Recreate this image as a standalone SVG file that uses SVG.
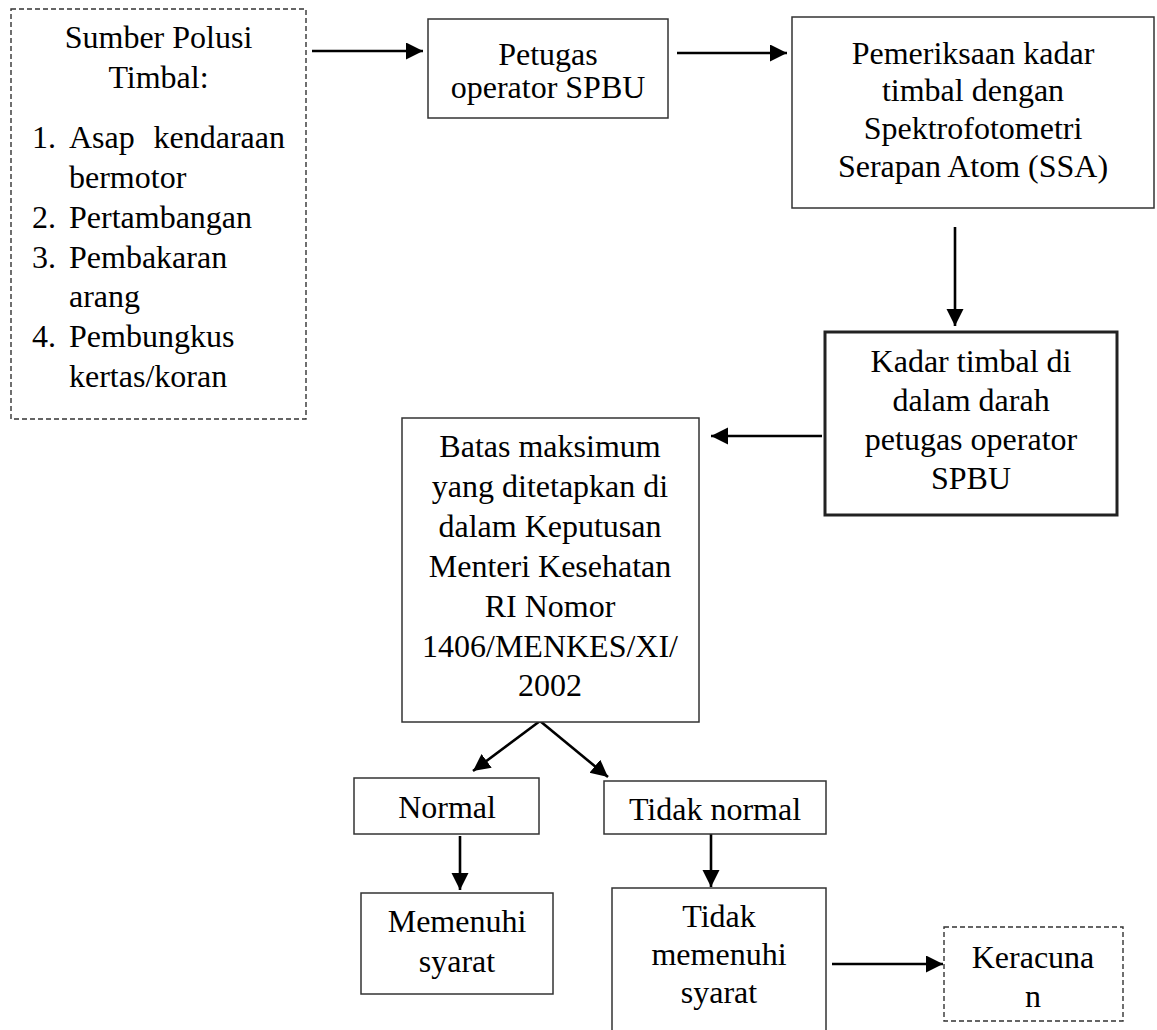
<svg xmlns="http://www.w3.org/2000/svg" width="1157" height="1030" viewBox="0 0 1157 1030">
<style>
text { font-family: "Liberation Serif", "Times New Roman", serif; font-size: 32px; fill: #000; }
.c { text-anchor: middle; }
.box { fill: #fff; stroke: #333; stroke-width: 1.5; }
.thick { fill: #fff; stroke: #222; stroke-width: 3; }
.dash { fill: #fff; stroke: #333; stroke-width: 1.4; stroke-dasharray: 5 3; }
.conn { stroke: #000; stroke-width: 2.6; fill: none; marker-end: url(#ah); }
</style>
<defs>
<marker id="ah" markerUnits="userSpaceOnUse" markerWidth="19" markerHeight="18" refX="17" refY="8.5" orient="auto">
<path d="M0,0 L17,8.5 L0,17 z" fill="#000"/>
</marker>
</defs>
<rect width="1157" height="1030" fill="#fff"/>
<g id="connectors">
<line class="conn" x1="312" y1="51" x2="423" y2="51"/>
<line class="conn" x1="677" y1="53" x2="787" y2="53"/>
<line class="conn" x1="955" y1="227" x2="955" y2="326"/>
<line class="conn" x1="822" y1="436" x2="711" y2="436"/>
<line class="conn" x1="540" y1="721" x2="473" y2="771"/>
<line class="conn" x1="540" y1="721" x2="608" y2="777"/>
<line class="conn" x1="460" y1="836" x2="460" y2="890"/>
<line class="conn" x1="711" y1="834" x2="711" y2="887"/>
<line class="conn" x1="832" y1="964" x2="943" y2="964"/>
</g>
<g id="node-sumber">
<rect class="dash" x="11" y="9" width="295" height="410"/>
<text class="c" x="158.5" y="48">Sumber Polusi</text>
<text class="c" x="158.5" y="88">Timbal:</text>
<text x="32" y="148">1.</text>
<text x="69" y="148">Asap</text>
<text x="285" y="148" text-anchor="end">kendaraan</text>
<text x="69" y="188">bermotor</text>
<text x="32" y="228">2.</text>
<text x="69" y="228">Pertambangan</text>
<text x="32" y="268">3.</text>
<text x="69" y="268">Pembakaran</text>
<text x="69" y="307">arang</text>
<text x="32" y="347">4.</text>
<text x="69" y="347">Pembungkus</text>
<text x="69" y="387">kertas/koran</text>
</g>
<g id="node-petugas">
<rect class="box" x="428" y="19" width="240" height="99"/>
<text class="c" x="548" y="65">Petugas</text>
<text class="c" x="548" y="98">operator SPBU</text>
</g>
<g id="node-pemeriksaan">
<rect class="box" x="792" y="17" width="362" height="191"/>
<text class="c" x="973" y="64">Pemeriksaan kadar</text>
<text class="c" x="973" y="101">timbal dengan</text>
<text class="c" x="973" y="139">Spektrofotometri</text>
<text class="c" x="973" y="177">Serapan Atom (SSA)</text>
</g>
<g id="node-kadar">
<rect class="thick" x="825" y="332" width="292" height="183"/>
<text class="c" x="971" y="372">Kadar timbal di</text>
<text class="c" x="971" y="411">dalam darah</text>
<text class="c" x="971" y="450">petugas operator</text>
<text class="c" x="971" y="489">SPBU</text>
</g>
<g id="node-batas">
<rect class="box" x="402" y="418" width="297" height="304"/>
<text class="c" x="550" y="457">Batas maksimum</text>
<text class="c" x="550" y="497">yang ditetapkan di</text>
<text class="c" x="550" y="537">dalam Keputusan</text>
<text class="c" x="550" y="577">Menteri Kesehatan</text>
<text class="c" x="550" y="617">RI Nomor</text>
<text class="c" x="550" y="657">1406/MENKES/XI/</text>
<text class="c" x="550" y="696">2002</text>
</g>
<g id="node-normal">
<rect class="box" x="354" y="778" width="185" height="56"/>
<text class="c" x="447" y="818">Normal</text>
</g>
<g id="node-tidak-normal">
<rect class="box" x="604" y="781" width="222" height="53"/>
<text class="c" x="715" y="820">Tidak normal</text>
</g>
<g id="node-memenuhi">
<rect class="box" x="361" y="893" width="192" height="101"/>
<text class="c" x="457" y="932">Memenuhi</text>
<text class="c" x="457" y="972">syarat</text>
</g>
<g id="node-tidak-memenuhi">
<rect class="box" x="612" y="888" width="214" height="160"/>
<text class="c" x="719" y="927">Tidak</text>
<text class="c" x="719" y="965">memenuhi</text>
<text class="c" x="719" y="1003">syarat</text>
</g>
<g id="node-keracunan">
<rect class="dash" x="944" y="927" width="179" height="94"/>
<text class="c" x="1033" y="968">Keracuna</text>
<text class="c" x="1033" y="1007">n</text>
</g>
</svg>
